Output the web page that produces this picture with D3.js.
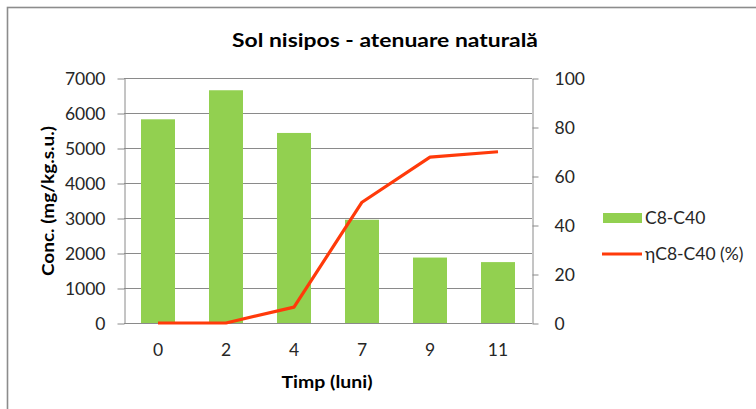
<!DOCTYPE html>
<html>
<head>
<meta charset="utf-8">
<script src="https://cdn.jsdelivr.net/npm/d3@7"></script>
<style>
  body { margin: 0; background: #fff; }
  text { font-family: Lato, "Open Sans", sans-serif; fill: #262626; }
</style>
</head>
<body>
<div id="chart"></div>
<script>
// chart data
var months = ["0", "2", "4", "7", "9", "11"];
var conc = [5820, 6650, 5430, 2950, 1870, 1740];      // C8-C40 (mg/kg.s.u.)
var efficiency = [0, 0, 6.5, 49.3, 67.7, 69.9];       // ηC8-C40 (%)
var leftTicks = [0, 1000, 2000, 3000, 4000, 5000, 6000, 7000];
var rightTicks = [0, 20, 40, 60, 80, 100];
var seriesNames = ["C8-C40", "ηC8-C40 (%)"];

var width = 756, height = 409;
var x0 = 124, x1 = 532, yTop = 78, yBot = 323;

var svg = d3.select('#chart').append('svg')
  .attr('width', width)
  .attr('height', height);

// outer frame
svg.append('rect')
  .attr('x', 7.5).attr('y', 7.5)
  .attr('width', 800).attr('height', 500)
  .attr('fill', 'none')
  .attr('stroke', '#8c8c8c')
  .attr('stroke-width', 1.6);

var x = d3.scaleBand().domain(months).range([x0, x1]).paddingInner(0.5).paddingOuter(0.25);
var xc = d3.scaleBand().domain(months).range([x0, x1]);
var yL = d3.scaleLinear().domain([0, 7000]).range([yBot, yTop]);
var yR = d3.scaleLinear().domain([0, 100]).range([yBot, yTop]);

// gridlines
svg.append('g').selectAll('line').data(leftTicks).enter().append('line')
  .attr('x1', x0).attr('x2', x1)
  .attr('y1', function (d) { return Math.round(yL(d)) + 0.5; })
  .attr('y2', function (d) { return Math.round(yL(d)) + 0.5; })
  .attr('stroke', '#8a8a8a').attr('stroke-width', 1);

// left axis
var axL = svg.append('g')
  .attr('transform', 'translate(' + (x0 + 0.5) + ',0.5)')
  .call(d3.axisLeft(yL).tickValues(leftTicks).tickFormat(d3.format('d'))
    .tickSize(7).tickPadding(6).tickSizeOuter(0));
// right axis
var axR = svg.append('g')
  .attr('transform', 'translate(' + (x1 + 0.5) + ',0.5)')
  .call(d3.axisRight(yR).tickValues(rightTicks).tickFormat(d3.format('d'))
    .tickSize(6).tickPadding(16).tickSizeOuter(0));
[axL, axR].forEach(function (ax) {
  ax.selectAll('path, line').attr('stroke', '#8a8a8a');
  ax.selectAll('text').attr('font-size', '17.5px').style('fill', '#262626');
});
axL.selectAll('text').attr('x', -19);

// bars
svg.append('g').selectAll('rect').data(conc).enter().append('rect')
  .attr('x', function (d, i) { return x(months[i]); })
  .attr('width', x.bandwidth())
  .attr('y', function (d) { return yL(d); })
  .attr('height', function (d) { return yBot - yL(d); })
  .attr('fill', '#92d050');

// x labels (bottom axis without ticks)
var axB = svg.append('g')
  .attr('transform', 'translate(0,' + yBot + ')')
  .call(d3.axisBottom(xc).tickSize(0).tickPadding(21));
axB.select('path').remove();
axB.selectAll('text').attr('font-size', '17.5px').style('fill', '#262626');

// efficiency line
var line = d3.line()
  .x(function (d, i) { return xc(months[i]) + xc.bandwidth() / 2; })
  .y(function (d) { return yR(d); });
svg.append('path').datum(efficiency)
  .attr('d', line)
  .attr('fill', 'none')
  .attr('stroke', '#ff3a0a')
  .attr('stroke-width', 3.2)
  .attr('stroke-linejoin', 'round');

// titles
svg.append('text')
  .attr('x', 385).attr('y', 47)
  .attr('text-anchor', 'middle')
  .attr('font-size', '19px').attr('font-weight', 'bold')
  .attr('textLength', 306).attr('lengthAdjust', 'spacingAndGlyphs')
  .style('fill', '#000')
  .text('Sol nisipos - atenuare naturală');

svg.append('text')
  .attr('transform', 'translate(54,201) rotate(-90)')
  .attr('text-anchor', 'middle')
  .attr('font-size', '17.5px').attr('font-weight', 'bold')
  .attr('textLength', 150).attr('lengthAdjust', 'spacingAndGlyphs')
  .style('fill', '#000')
  .text('Conc. (mg/kg.s.u.)');

svg.append('text')
  .attr('x', 327).attr('y', 388)
  .attr('text-anchor', 'middle')
  .attr('font-size', '17.5px').attr('font-weight', 'bold')
  .attr('textLength', 91).attr('lengthAdjust', 'spacingAndGlyphs')
  .style('fill', '#000')
  .text('Timp (luni)');

// legend
var lg = svg.append('g');
lg.append('rect')
  .attr('x', 603).attr('y', 213).attr('width', 39).attr('height', 10)
  .attr('fill', '#92d050');
lg.append('line')
  .attr('x1', 602).attr('x2', 642).attr('y1', 254).attr('y2', 254)
  .attr('stroke', '#ff3a0a').attr('stroke-width', 3.2);
lg.selectAll('text').data(seriesNames).enter().append('text')
  .attr('x', 645)
  .attr('y', function (d, i) { return 218 + i * 36; })
  .attr('dy', '0.35em')
  .attr('font-size', '17.5px')
  .text(function (d) { return d; });
</script>
</body>
</html>
